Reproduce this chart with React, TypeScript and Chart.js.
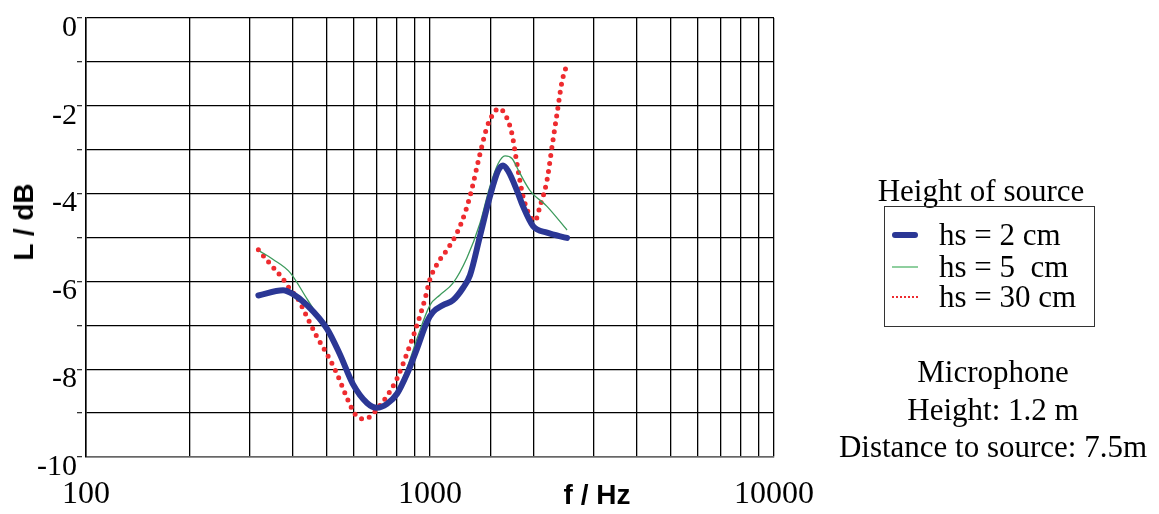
import React, { useEffect, useRef } from "react";
import { Chart, registerables } from "chart.js";

Chart.register(...registerables);

// Frequencies (Hz) and levels (dB)
const freqs2cm = [317, 374, 400, 439, 502, 547, 597, 656, 701, 750, 802, 857, 917, 980, 1020, 1091, 1166, 1247, 1307, 1398, 1494, 1577, 1630, 1686, 1790, 1864, 1993, 2188, 2502];
const level2cm = [-6.32, -6.2, -6.29, -6.54, -7.08, -7.66, -8.34, -8.77, -8.88, -8.79, -8.56, -8.11, -7.53, -6.92, -6.7, -6.54, -6.43, -6.15, -5.86, -4.96, -4.06, -3.48, -3.36, -3.48, -3.93, -4.29, -4.74, -4.89, -5.01];

const freqs5cm = [320, 350, 392, 439, 489, 537, 597, 656, 701, 750, 802, 857, 917, 1000, 1069, 1166, 1281, 1398, 1494, 1577, 1652, 1731, 1826, 1953, 2188, 2502];
const level5cm = [-5.31, -5.5, -5.8, -6.4, -6.99, -7.6, -8.34, -8.77, -8.84, -8.77, -8.5, -7.98, -7.3, -6.54, -6.31, -6.04, -5.46, -4.67, -3.83, -3.32, -3.14, -3.2, -3.54, -3.93, -4.29, -4.83];

const freqs30cm = [317, 336, 350, 371, 392, 413, 439, 469, 502, 537, 574, 605, 634, 660, 683, 706, 750, 802, 857, 917, 967, 1000, 1069, 1121, 1223, 1307, 1398, 1465, 1525, 1588, 1652, 1731, 1790, 1864, 1953, 2020, 2088, 2188, 2263, 2339, 2419, 2485];
const level30cm = [-5.28, -5.52, -5.68, -5.91, -6.18, -6.4, -6.81, -7.26, -7.66, -8.11, -8.66, -9.02, -9.13, -9.11, -9.02, -8.88, -8.61, -8.21, -7.64, -6.99, -6.4, -5.95, -5.5, -5.28, -4.74, -4.06, -3.09, -2.48, -2.19, -2.06, -2.19, -2.64, -3.32, -4.06, -4.51, -4.62, -4.29, -3.7, -2.93, -2.19, -1.45, -1.12];

const xTickLabels = [100, 1000, 10000];
const seriesLabels = ["hs = 2 cm", "hs = 5\u00a0 cm", "hs = 30 cm"];
const infoLines = ["Microphone", "Height: 1.2 m", "Distance to source: 7.5m"];

const toPoints = (xs: number[], ys: number[]) => xs.map((x, i) => ({ x, y: ys[i] }));

const BLUE = "#2b3795";
const GREEN = "#3c9a5c";
const RED = "#ee2b2f";
const SERIF = "'Liberation Serif', 'Times New Roman', serif";
const SANS = "'Liberation Sans', Arial, sans-serif";

export default function App() {
  const canvasRef = useRef<HTMLCanvasElement | null>(null);

  useEffect(() => {
    if (!canvasRef.current) return;
    const chart = new Chart(canvasRef.current, {
      type: "line",
      data: {
        datasets: [
          {
            label: seriesLabels[0],
            data: toPoints(freqs2cm, level2cm),
            borderColor: BLUE,
            borderWidth: 6,
            pointRadius: 0,
            cubicInterpolationMode: "monotone",
            borderCapStyle: "round",
            borderJoinStyle: "round",
          },
          {
            label: seriesLabels[1],
            data: toPoints(freqs5cm, level5cm),
            borderColor: GREEN,
            borderWidth: 1.3,
            pointRadius: 0,
            cubicInterpolationMode: "monotone",
          },
          {
            label: seriesLabels[2],
            data: toPoints(freqs30cm, level30cm),
            borderColor: RED,
            borderWidth: 5,
            borderDash: [0, 8],
            borderCapStyle: "round",
            pointRadius: 0,
            cubicInterpolationMode: "monotone",
          },
        ],
      },
      options: {
        animation: false,
        responsive: true,
        maintainAspectRatio: false,
        layout: { padding: { top: 13, right: 385, left: 0, bottom: 0 } },
        plugins: { legend: { display: false }, tooltip: { enabled: false } },
        scales: {
          x: {
            type: "logarithmic",
            min: 100,
            max: 10000,
            afterFit: (s: any) => {
              s.height = 57;
            },
            ticks: {
              autoSkip: false,
              maxRotation: 0,
              padding: 18,
              color: "#000",
              font: { family: SERIF, size: 32 },
              callback: (v: any) => (xTickLabels.includes(Number(v)) ? String(v) : ""),
            },
            grid: { color: "#000", lineWidth: 1.3, drawTicks: false },
            border: { color: "#666", width: 1.5 },
          },
          y: {
            min: -10,
            max: 0,
            afterFit: (s: any) => {
              s.width = 86;
            },
            ticks: {
              stepSize: 1,
              padding: 0,
              labelOffset: 10,
              color: "#000",
              font: { family: SERIF, size: 30 },
              callback: (v: any) => (Number(v) % 2 === 0 ? String(v) : ""),
            },
            grid: {
              color: "#000",
              lineWidth: 1.3,
              tickLength: 9,
              tickColor: "#333",
              tickBorderDash: [5, 4],
            },
            border: { color: "#000", width: 1.5 },
          },
        },
      },
    } as any);
    return () => chart.destroy();
  }, []);

  const abs = (extra: React.CSSProperties): React.CSSProperties => ({
    position: "absolute",
    whiteSpace: "nowrap",
    color: "#000",
    ...extra,
  });

  const legendRowY = [235, 267, 297];

  return (
    <div style={{ position: "absolute", left: 0, top: 0, width: 1159, height: 514, background: "#fff" }}>
      <canvas ref={canvasRef} />
      <div
        style={abs({
          left: 24,
          top: 222,
          transform: "translate(-50%, -50%) rotate(-90deg)",
          font: `bold 28px ${SANS}`,
        })}
      >
        L / dB
      </div>
      <div style={abs({ left: 597, top: 495, transform: "translate(-50%, -50%)", font: `bold 28px ${SANS}` })}>
        f / Hz
      </div>
      <div style={abs({ left: 981, top: 191, transform: "translate(-50%, -50%)", font: `31px ${SERIF}` })}>
        Height of source
      </div>
      <div
        style={abs({
          left: 884,
          top: 206,
          width: 211,
          height: 121,
          border: "1.3px solid #333",
          boxSizing: "border-box",
        })}
      />
      {seriesLabels.map((lab, i) => (
        <React.Fragment key={lab}>
          <div
            style={abs({
              left: 892,
              top: legendRowY[i] - (i === 0 ? 3 : i === 1 ? 0.6 : 1),
              width: 26,
              height: i === 0 ? 6 : i === 1 ? 1.3 : 0,
              background: i === 0 ? BLUE : i === 1 ? "#8fcf9f" : "transparent",
              borderRadius: i === 0 ? 3 : 0,
              borderTop: i === 2 ? `2px dotted ${RED}` : undefined,
            })}
          />
          <div style={abs({ left: 939, top: legendRowY[i], transform: "translateY(-50%)", font: `31px ${SERIF}` })}>
            {lab}
          </div>
        </React.Fragment>
      ))}
      {infoLines.map((t, i) => (
        <div
          key={t}
          style={abs({ left: 993, top: [372, 410, 447][i], transform: "translate(-50%, -50%)", font: `31px ${SERIF}` })}
        >
          {t}
        </div>
      ))}
    </div>
  );
}
